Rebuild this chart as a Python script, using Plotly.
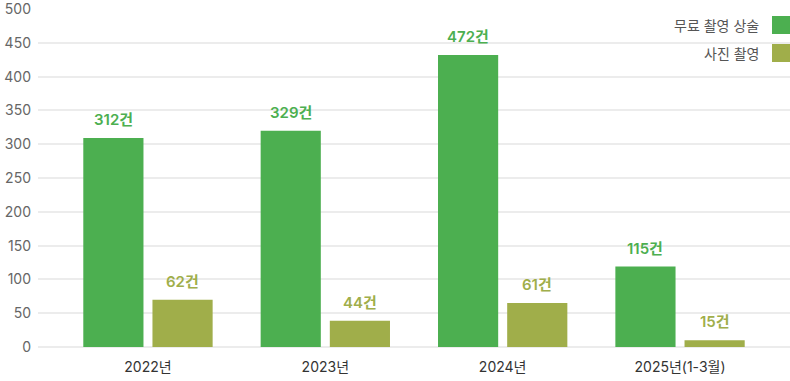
import plotly.graph_objects as go

categories = ["2022년", "2023년", "2024년", "2025년(1-3월)"]
free_values = [309, 320, 432, 119]
photo_values = [70, 39, 65, 10]
free_labels = ["312건", "329건", "472건", "115건"]
photo_labels = ["62건", "44건", "61건", "15건"]
series_names = ["무료 촬영 상술", "사진 촬영"]
y_ticks = [0, 50, 100, 150, 200, 250, 300, 350, 400, 450, 500]

GREEN = "#4caf50"
OLIVE = "#a0ae4a"
FONT = "Inter, 'Noto Sans CJK KR', sans-serif"

W, H = 790, 381
ml, mr, mt, mb = 38, 0, 9, 34
pw, ph = W - ml - mr, H - mt - mb

fig = go.Figure()
fig.add_trace(go.Bar(x=categories, y=free_values, name=series_names[0],
                     marker=dict(color=GREEN, line=dict(width=0)), showlegend=False))
fig.add_trace(go.Bar(x=categories, y=photo_values, name=series_names[1],
                     marker=dict(color=OLIVE, line=dict(width=0)), showlegend=False))

annotations = []
off = 0.195
for i, (v, t) in enumerate(zip(free_values, free_labels)):
    annotations.append(dict(x=i - off, y=v, xref="x", yref="y", text=t, showarrow=False,
                            yanchor="bottom", yshift=7,
                            font=dict(family=FONT, size=15, color=GREEN, weight=600)))
for i, (v, t) in enumerate(zip(photo_values, photo_labels)):
    annotations.append(dict(x=i + off, y=v, xref="x", yref="y", text=t, showarrow=False,
                            yanchor="bottom", yshift=7,
                            font=dict(family=FONT, size=15, color=OLIVE, weight=600)))


def px_x(x):
    return (x - ml) / pw


def px_y(y):
    return (H - mb - y) / ph


# manual legend (swatch to the right of the text)
legend_colors = [GREEN, OLIVE]
legend_y = [25, 53]
shapes = []
for name, col, yc in zip(series_names, legend_colors, legend_y):
    annotations.append(dict(x=px_x(761), y=px_y(yc), xref="paper", yref="paper",
                            text=name, showarrow=False, xanchor="right", yanchor="middle",
                            font=dict(family=FONT, size=14, color="#555555")))
    shapes.append(dict(type="rect", xref="paper", yref="paper",
                       x0=px_x(772), x1=px_x(790),
                       y0=px_y(yc + 9), y1=px_y(yc - 9),
                       fillcolor=col, line=dict(width=0)))

fig.update_layout(
    width=W, height=H,
    margin=dict(l=ml, r=mr, t=mt, b=mb, autoexpand=False),
    paper_bgcolor="white", plot_bgcolor="white",
    barmode="group", bargap=0.22, bargroupgap=0.13,
    font=dict(family=FONT, size=14, color="#333333"),
    xaxis=dict(range=[-0.62, 3.62], showgrid=False, zeroline=False, showline=False,
               ticks="", automargin=False, ticklabelstandoff=10,
               tickfont=dict(size=14, color="#333333")),
    yaxis=dict(range=[0, 500], tickvals=y_ticks, showgrid=True, gridcolor="#ececec",
               gridwidth=1.5, zeroline=True, zerolinecolor="#ececec", zerolinewidth=1.5,
               showline=False, ticks="", ticklabelstandoff=6, automargin=False,
               ticklabeloverflow="allow",
               tickfont=dict(size=14, color="#666666")),
    annotations=annotations,
    shapes=shapes,
)

fig.write_html("out.html", config={"displayModeBar": False},
               post_script="document.body.style.margin='0px';document.body.style.overflow='hidden';")
